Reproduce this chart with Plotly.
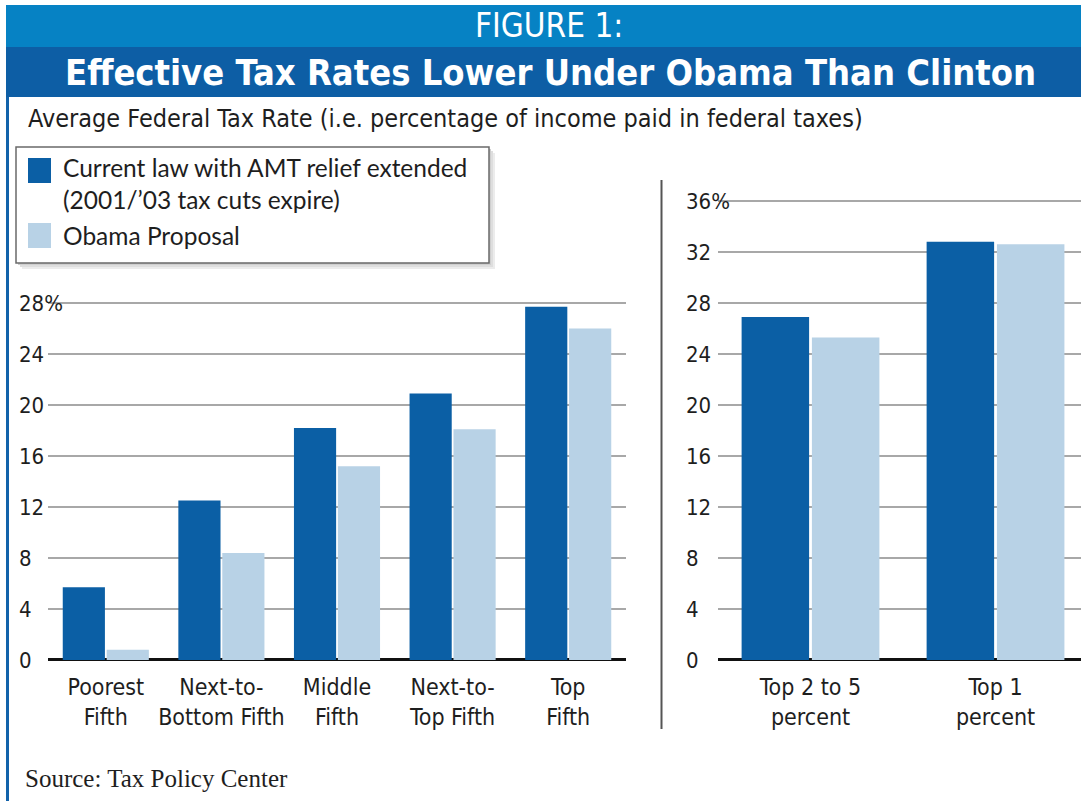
import plotly.graph_objects as go

W, H = 1081, 801

# ---------------- data ----------------
left_categories = ["Poorest<br>Fifth", "Next-to-<br>Bottom Fifth", "Middle<br>Fifth", "Next-to-<br>Top Fifth", "Top<br>Fifth"]
left_current = [5.7, 12.5, 18.2, 20.9, 27.7]
left_obama = [0.8, 8.4, 15.2, 18.1, 26.0]

right_categories = ["Top 2 to 5<br>percent", "Top 1<br>percent"]
right_current = [26.9, 32.8]
right_obama = [25.3, 32.6]

left_ticks = [0, 4, 8, 12, 16, 20, 24, 28]
left_ticktext = ["0", "4", "8", "12", "16", "20", "24", "28%"]
right_ticks = [0, 4, 8, 12, 16, 20, 24, 28, 32, 36]
right_ticktext = ["0", "4", "8", "12", "16", "20", "24", "28", "32", "36%"]

series_names = ["Current law with AMT relief extended<br>(2001/\u201903 tax cuts expire)", "Obama Proposal"]

# ---------------- style ----------------
DARK = "#0b5fa5"
LIGHT = "#b8d2e6"
COND = "DejaVu Sans Condensed, Liberation Sans Narrow, sans-serif"
TEXT = "#1e1e1e"


def px(x):
    return x / W


def py(y):
    return 1 - y / H


fig = go.Figure()
fig.add_bar(x=left_categories, y=left_current, name=series_names[0], marker_color=DARK,
            marker_line_width=0, xaxis="x", yaxis="y", showlegend=False)
fig.add_bar(x=left_categories, y=left_obama, name=series_names[1], marker_color=LIGHT,
            marker_line_width=0, xaxis="x", yaxis="y", showlegend=False)
fig.add_bar(x=right_categories, y=right_current, name=series_names[0], marker_color=DARK,
            marker_line_width=0, xaxis="x2", yaxis="y2", showlegend=False)
fig.add_bar(x=right_categories, y=right_obama, name=series_names[1], marker_color=LIGHT,
            marker_line_width=0, xaxis="x2", yaxis="y2", showlegend=False)

unit = 12.75  # px per percentage point
zero_y = 660
y_lo = -1.2          # a little room below zero so the "0" label is kept
l_top = 29.3
r_top = 37.3

axis_common = dict(showgrid=False, showline=False, ticks="", ticklabelstandoff=-4,
                   tickfont=dict(family=COND, size=23, color=TEXT), fixedrange=True)
yaxis_common = dict(showgrid=True, gridcolor="#a8a8a8", gridwidth=1.5,
                    zeroline=True, zerolinecolor="#111111", zerolinewidth=3,
                    showline=False, ticks="", ticklabelposition="inside",
                    tickfont=dict(family=COND, size=22, color=TEXT), fixedrange=True)

fig.update_layout(
    width=W, height=H,
    margin=dict(l=0, r=0, t=0, b=0),
    paper_bgcolor="white", plot_bgcolor="white",
    barmode="group", bargap=0.24, bargroupgap=0.04,
    xaxis=dict(domain=[px(48), px(626)], anchor="y", range=[-0.5, 4.5], **axis_common),
    yaxis=dict(domain=[py(zero_y - y_lo * unit), py(zero_y - l_top * unit)], range=[y_lo, l_top], anchor="x",
               tickvals=left_ticks, ticktext=left_ticktext, ticklabelstandoff=-32, **yaxis_common),
    xaxis2=dict(domain=[px(718), 1.0], anchor="y2", range=[-0.5, 1.462], **axis_common),
    yaxis2=dict(domain=[py(zero_y - y_lo * unit), py(zero_y - r_top * unit)], range=[y_lo, r_top], anchor="x2",
                tickvals=right_ticks, ticktext=right_ticktext, ticklabelstandoff=-35, **yaxis_common),
    showlegend=False,
)

shapes = []
# banner bands
shapes.append(dict(type="rect", xref="paper", yref="paper", x0=px(6), x1=1.0, y0=py(47), y1=py(5),
                   fillcolor="#0682c4", line_width=0, layer="below"))
shapes.append(dict(type="rect", xref="paper", yref="paper", x0=px(6), x1=1.0, y0=py(97), y1=py(47),
                   fillcolor="#0d5ea5", line_width=0, layer="below"))
# left border
shapes.append(dict(type="line", xref="paper", yref="paper", x0=px(7.5), x1=px(7.5), y0=py(97), y1=0,
                   line=dict(color="#1262aa", width=3)))
# separator between panels
shapes.append(dict(type="line", xref="paper", yref="paper", x0=px(661.5), x1=px(661.5), y0=py(180), y1=py(729),
                   line=dict(color="#555555", width=2)))
# legend box with soft shadow
for off, col in [(6, "#ececec"), (4, "#dedede"), (2, "#cfcfcf")]:
    shapes.append(dict(type="rect", xref="paper", yref="paper", x0=px(16 + off), x1=px(489 + off),
                       y0=py(263 + off), y1=py(147 + off), fillcolor=col, line_width=0))
shapes.append(dict(type="rect", xref="paper", yref="paper", x0=px(16), x1=px(489), y0=py(263), y1=py(147),
                   fillcolor="white", line=dict(color="#6a6a6a", width=1.5)))
shapes.append(dict(type="rect", xref="paper", yref="paper", x0=px(28), x1=px(51), y0=py(183), y1=py(158),
                   fillcolor=DARK, line_width=0))
shapes.append(dict(type="rect", xref="paper", yref="paper", x0=px(28), x1=px(51), y0=py(248), y1=py(223),
                   fillcolor=LIGHT, line_width=0))

annotations = [
    dict(text="FIGURE 1:", x=px(549), y=py(26), xref="paper", yref="paper", showarrow=False,
         font=dict(family=COND, size=33, color="white"), xanchor="center", yanchor="middle"),
    dict(text="<b>Effective Tax Rates Lower Under Obama Than Clinton</b>", x=px(550), y=py(72),
         xref="paper", yref="paper", showarrow=False,
         font=dict(family=COND, size=36, color="white"), xanchor="center", yanchor="middle"),
    dict(text="Average Federal Tax Rate (i.e. percentage of income paid in federal taxes)",
         x=px(26), y=py(118), xref="paper", yref="paper", showarrow=False,
         font=dict(family=COND, size=25, color=TEXT), xanchor="left", yanchor="middle"),
    dict(text=series_names[0], x=px(61), y=py(183), xref="paper", yref="paper", showarrow=False,
         font=dict(family="Lato, Noto Sans, sans-serif", size=24.5, color=TEXT), xanchor="left", yanchor="middle",
         align="left"),
    dict(text=series_names[1], x=px(61), y=py(235), xref="paper", yref="paper", showarrow=False,
         font=dict(family="Lato, Noto Sans, sans-serif", size=24.5, color=TEXT), xanchor="left", yanchor="middle"),
    dict(text="Source: Tax Policy Center", x=px(23), y=py(778), xref="paper", yref="paper", showarrow=False,
         font=dict(family="Liberation Serif, Times New Roman, serif", size=25, color=TEXT),
         xanchor="left", yanchor="middle"),
]

fig.update_layout(shapes=shapes, annotations=annotations)
fig.write_html(
    "out.html", config={"displayModeBar": False},
    post_script=(
        "document.documentElement.style.margin='0';document.body.style.margin='0';"
        "document.body.style.overflow='hidden';"
        "var d=document.getElementById('{plot_id}');d.style.position='fixed';d.style.top='0';d.style.left='0';"
    ),
)
